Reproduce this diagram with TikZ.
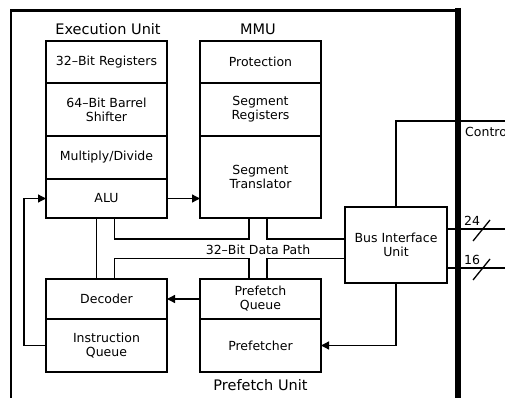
\documentclass[tikz,border=0pt]{standalone}
\usepackage{fontspec}
\setmainfont{DejaVu Sans}
\usetikzlibrary{arrows.meta}

\begin{document}
\begin{tikzpicture}[x=1pt,y=-1pt,
	unitrow/.style={draw, line width=1.2pt, minimum width=121pt, align=center, inner sep=0pt, outer sep=0pt, font=\fontsize{12.5}{14}\selectfont},
	unitframe/.style={line width=2.6pt},
	unitlabel/.style={inner sep=0pt, font=\fontsize{14.5}{16}\selectfont},
	smalllabel/.style={inner sep=0pt, font=\fontsize{12.5}{14}\selectfont},
	bus/.style={line width=1.3pt},
	busarrow/.style={bus, -{Triangle[length=8pt,width=8pt]}}]
	\useasboundingbox (0,0) rectangle (505,398);
	% outer frame
	\draw[line width=2.6pt] (11,398) -- (11,10.5) -- (458,10.5);
	\draw[line width=5.5pt] (458,8) -- (458,398);
	% execution unit
	\node[unitlabel] (exlabel) at (108,29) {Execution Unit};
	\node[unitrow, minimum height=42pt] (regs) at (106.5,62) {32--Bit Registers};
	\node[unitrow, minimum height=53pt] (shifter) at (106.5,109.5) {64--Bit Barrel\\Shifter};
	\node[unitrow, minimum height=43pt] (muldiv) at (106.5,157.5) {Multiply/Divide};
	\node[unitrow, minimum height=39pt] (alu) at (106.5,198.5) {ALU};
	\draw[unitframe] (regs.north west) rectangle (alu.south east);
	% mmu
	\node[unitlabel] (mmulabel) at (258,29) {MMU};
	\node[unitrow, minimum height=42pt] (prot) at (260.5,62) {Protection};
	\node[unitrow, minimum height=53pt] (segregs) at (260.5,109.5) {Segment\\Registers};
	\node[unitrow, minimum height=82pt] (segtrans) at (260.5,177) {Segment\\Translator};
	\draw[unitframe] (prot.north west) rectangle (segtrans.south east);
	% decoder and instruction queue
	\node[unitrow, minimum height=40pt] (decoder) at (106.5,299) {Decoder};
	\node[unitrow, minimum height=53pt] (iqueue) at (106.5,345.5) {Instruction\\Queue};
	\draw[unitframe] (decoder.north west) rectangle (iqueue.south east);
	% prefetch unit
	\node[unitrow, minimum height=40pt] (pqueue) at (260.5,299) {Prefetch\\Queue};
	\node[unitrow, minimum height=53pt] (prefetcher) at (260.5,345.5) {Prefetcher};
	\draw[unitframe] (pqueue.north west) rectangle (prefetcher.south east);
	\node[unitlabel] (pflabel) at (260.5,385) {Prefetch Unit};
	% bus interface unit
	\node[unitrow, unitframe, minimum width=102pt, minimum height=76pt] (biu) at (396,245) {Bus Interface\\Unit};
	% data path
	\coordinate (busup) at (0,239);
	\coordinate (buslow) at (0,258.5);
	\node[smalllabel] (dplabel) at (258,249.5) {32--Bit Data Path};
	\draw[bus] ([xshift=-10pt]alu.south) -- ([xshift=-10pt]decoder.north);
	\draw[bus] ([xshift=8pt]alu.south) |- ([xshift=-11.5pt]segtrans.south |- busup) -- ([xshift=-11.5pt]segtrans.south);
	\draw[bus] ([xshift=6.5pt]segtrans.south) |- (biu.west |- busup);
	\draw[bus] ([xshift=8pt]decoder.north) |- ([xshift=-11.5pt]pqueue.north |- buslow) -- ([xshift=-11.5pt]pqueue.north);
	\draw[bus] ([xshift=6.5pt]pqueue.north) |- (biu.west |- buslow);
	% arrows
	\draw[busarrow] (alu.east) -- (alu.east -| segtrans.west);
	\draw[busarrow] (pqueue.west) -- (decoder.east);
	\draw[busarrow] (iqueue.west) -- ++(-22,0) |- (alu.west);
	\draw[busarrow] (biu.south) |- (prefetcher.east);
	% external lines
	\coordinate (ctrl) at (510,121);
	\coordinate (addr) at (510,229);
	\coordinate (data) at (510,268);
	\draw[bus] (biu.north) |- (ctrl);
	\node[smalllabel, anchor=west] (ctrllabel) at (465,132) {Control};
	\draw[bus] (biu.east |- addr) -- (addr);
	\draw[bus] (473,241) -- (490,220);
	\node[smalllabel] (addrlabel) at (472,221) {24};
	\draw[bus] (biu.east |- data) -- (data);
	\draw[bus] (473,280) -- (490,259);
	\node[smalllabel] (datalabel) at (472,260) {16};
\end{tikzpicture}
\end{document}
